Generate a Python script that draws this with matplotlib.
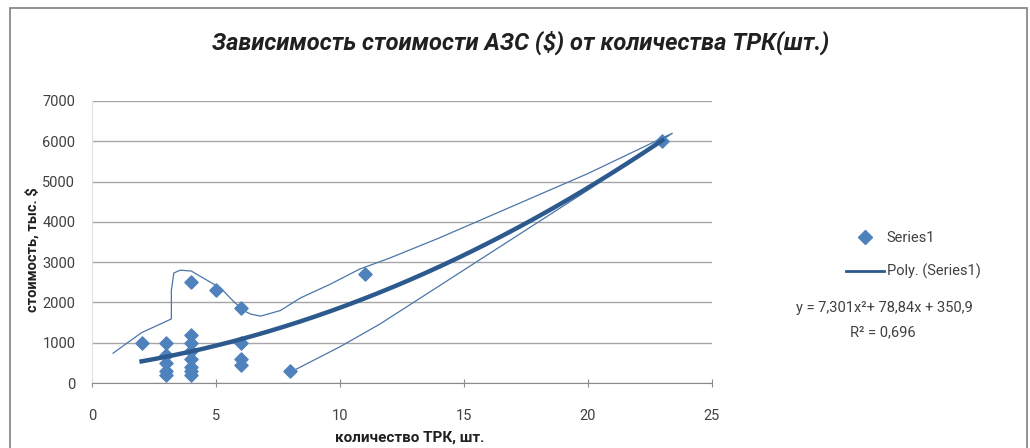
import matplotlib.pyplot as plt
import numpy as np
from matplotlib.lines import Line2D
from matplotlib.patches import Rectangle

plt.rcParams['font.family'] = ['Roboto', 'DejaVu Sans']

# points of the scatter (number of pumps, cost)
trk = [2, 3, 3, 3, 3, 3, 4, 4, 4, 4, 4, 4, 4, 4, 5, 6, 6, 6, 6, 8, 11, 23]
cost = [1000, 1000, 700, 500, 300, 200, 2500, 1200, 1000, 800, 600, 400, 300, 200,
        2300, 1850, 1000, 600, 450, 300, 2700, 6000]

# trendline coefficients as printed on the chart
poly_a, poly_b, poly_c = 7.301, 78.84, 350.9
eq_text = "y = 7,301x²+ 78,84x + 350,9"
r2_text = "R² = 0,696"

# freehand outline drawn over the chart
outline_x = [0.85, 2.0, 3.2, 3.2, 3.3, 3.55, 4.0, 4.5, 5.2, 5.7, 6.1, 6.4, 6.8, 7.6, 8.4,
             9.6, 10.8, 12.0, 14.0, 17.0, 20.0, 23.4, 20.0, 17.0, 14.0, 11.6, 10.0, 8.1]
outline_y = [740, 1250, 1590, 2300, 2730, 2800, 2780, 2600, 2350, 2030, 1800, 1710, 1660,
             1800, 2110, 2450, 2830, 3100, 3600, 4400, 5200, 6200, 4790, 3600, 2410, 1460,
             900, 300]

blue = '#4F81BD'
dark = '#2D5A8E'
txt = '#404040'

fig = plt.figure(figsize=(10.3, 4.48), dpi=100)
ax = fig.add_axes([92 / 1030, 1 - 383 / 448, 620 / 1030, 282 / 448])

ax.plot(outline_x, outline_y, color='#4A76A8', lw=0.9, zorder=2)
ax.scatter(trk, cost, marker='D', s=45, color=blue, zorder=3)
xs = np.linspace(min(trk), max(trk), 200)
ax.plot(xs, poly_a * xs ** 2 + poly_b * xs + poly_c, color=dark, lw=3.2, zorder=4)

ax.set_xlim(0, 25)
ax.set_ylim(0, 7000)
ax.set_xticks(range(0, 26, 5))
ax.set_yticks(range(0, 7001, 1000))
ax.yaxis.grid(True, color='#A6A6A6', lw=1)
ax.set_axisbelow(True)
for s in ['top', 'right']:
    ax.spines[s].set_visible(False)
ax.spines['left'].set_color('#E0E0E0')
ax.spines['bottom'].set_color('#8C8C8C')
ax.tick_params(axis='y', length=0, labelsize=10.5, colors=txt, pad=12)
ax.tick_params(axis='x', direction='inout', length=6, color='#8C8C8C', labelsize=10.5,
               labelcolor=txt, pad=16)

ax.set_xlabel("количество ТРК, шт.", fontsize=11, color='#202020', fontweight='bold')
ax.xaxis.set_label_coords((410 - 92) / 620, -(438 - 383) / 282)
ax.xaxis.label.set_va('center')
ax.set_ylabel("стоимость, тыс. $", fontsize=10.5, color='#202020', fontweight='bold')
ax.yaxis.set_label_coords((32 - 92) / 620, (383 - 250) / 282)
ax.yaxis.label.set_va('center')

fig.text(521 / 1030, 1 - 43 / 448, "Зависимость стоимости АЗС ($) от количества ТРК(шт.)",
         ha='center', va='center', fontsize=17, style='italic', fontweight='bold',
         color='#202020')

handles = [Line2D([], [], marker='D', ls='none', color=blue, markersize=7),
           Line2D([], [], color=dark, lw=2)]
fig.legend(handles, ['Series1', 'Poly. (Series1)'], loc='center left',
           bbox_to_anchor=(846 / 1030, 1 - 255 / 448), frameon=False, fontsize=10.5,
           labelcolor=txt, handlelength=2.6, labelspacing=1.3, handletextpad=0.2,
           borderpad=0, borderaxespad=0)
fig.text(884 / 1030, 1 - 308 / 448, eq_text, ha='center', va='center', fontsize=10.5,
         color=txt)
fig.text(883 / 1030, 1 - 332 / 448, r2_text, ha='center', va='center', fontsize=10.5,
         color=txt)

fig.patches.append(Rectangle((10 / 1030, -20 / 448), 1017 / 1030, 460 / 448,
                             transform=fig.transFigure, fill=False, ec='#7F7F7F', lw=1.2))

fig.savefig('out.png', dpi=100)
